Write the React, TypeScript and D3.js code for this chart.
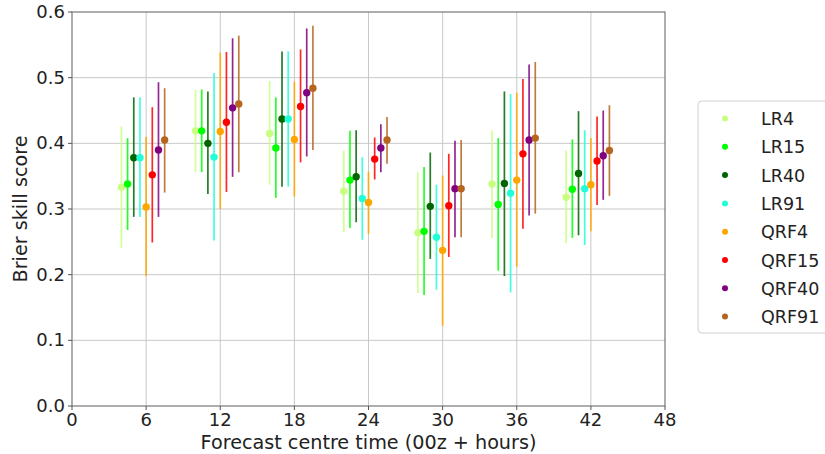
import React from "react";
import * as d3 from "d3";

// Forecast centre times (hours after 00z)
const hours = [6, 12, 18, 24, 30, 36, 42];

const models = ["LR4", "LR15", "LR40", "LR91", "QRF4", "QRF15", "QRF40", "QRF91"];
const colors = ["#c8ff80", "#00ff00", "#006400", "#20ffd8", "#ffa500", "#ff0000", "#800080", "#b5651d"];
// Horizontal offset of each model within a group (hours)
const offsets = [-2, -1.5, -1, -0.5, 0, 0.5, 1, 1.5];

// Brier skill score per model (rows) and forecast time (columns)
const score = [
  [0.333, 0.419, 0.415, 0.327, 0.264, 0.338, 0.318],
  [0.338, 0.419, 0.393, 0.344, 0.266, 0.307, 0.330],
  [0.378, 0.400, 0.437, 0.349, 0.304, 0.339, 0.354],
  [0.378, 0.379, 0.437, 0.316, 0.257, 0.324, 0.331],
  [0.303, 0.418, 0.406, 0.310, 0.237, 0.344, 0.337],
  [0.352, 0.432, 0.456, 0.376, 0.305, 0.384, 0.373],
  [0.390, 0.454, 0.477, 0.393, 0.331, 0.405, 0.381],
  [0.405, 0.460, 0.484, 0.405, 0.331, 0.408, 0.389],
];

// Upper end of the uncertainty range
const upper = [
  [0.426, 0.482, 0.495, 0.389, 0.356, 0.419, 0.389],
  [0.408, 0.482, 0.470, 0.419, 0.364, 0.408, 0.406],
  [0.470, 0.479, 0.540, 0.420, 0.386, 0.479, 0.449],
  [0.470, 0.507, 0.540, 0.379, 0.337, 0.475, 0.420],
  [0.410, 0.538, 0.494, 0.357, 0.351, 0.477, 0.408],
  [0.455, 0.539, 0.543, 0.409, 0.384, 0.498, 0.441],
  [0.493, 0.560, 0.575, 0.429, 0.404, 0.520, 0.450],
  [0.484, 0.564, 0.579, 0.440, 0.405, 0.524, 0.458],
];

// Lower end of the uncertainty range
const lower = [
  [0.241, 0.356, 0.337, 0.265, 0.172, 0.256, 0.248],
  [0.268, 0.356, 0.317, 0.271, 0.169, 0.206, 0.256],
  [0.288, 0.323, 0.334, 0.280, 0.224, 0.198, 0.260],
  [0.288, 0.252, 0.334, 0.253, 0.177, 0.173, 0.245],
  [0.198, 0.300, 0.319, 0.262, 0.122, 0.212, 0.266],
  [0.249, 0.326, 0.371, 0.345, 0.227, 0.270, 0.306],
  [0.288, 0.349, 0.380, 0.356, 0.257, 0.290, 0.314],
  [0.325, 0.356, 0.390, 0.369, 0.257, 0.293, 0.320],
];

const xTicks = [0, 6, 12, 18, 24, 30, 36, 42, 48];
const yTicks = [0, 0.1, 0.2, 0.3, 0.4, 0.5, 0.6];

const W = 825;
const H = 454;
const m = { left: 72, right: 160, top: 12, bottom: 48 };
const FONT = "DejaVu Sans, sans-serif";

export default function App() {
  const x = d3.scaleLinear().domain([0, 48]).range([m.left, W - m.right]);
  const y = d3.scaleLinear().domain([0, 0.6]).range([H - m.bottom, m.top]);
  const x0 = x.range()[0];
  const x1 = x.range()[1];
  const y0 = y.range()[0];
  const y1 = y.range()[1];

  return (
    <svg
      width={W}
      height={H}
      style={{ position: "absolute", left: 0, top: 0, background: "#fff" }}
      fontFamily={FONT}
    >
      {/* grid */}
      {xTicks.slice(1, -1).map((t) => (
        <line key={"gx" + t} x1={x(t)} x2={x(t)} y1={y0} y2={y1} stroke="#c8c8c8" strokeWidth={1} />
      ))}
      {yTicks.slice(1, -1).map((t) => (
        <line key={"gy" + t} x1={x0} x2={x1} y1={y(t)} y2={y(t)} stroke="#c8c8c8" strokeWidth={1} />
      ))}

      {/* error bars and points */}
      {models.map((name, i) =>
        hours.map((h, j) => {
          const cx = x(h + offsets[i]);
          return (
            <g key={name + h}>
              <line
                x1={cx}
                x2={cx}
                y1={y(lower[i][j])}
                y2={y(upper[i][j])}
                stroke={colors[i]}
                strokeWidth={1.7}
                strokeOpacity={0.85}
              />
              <circle cx={cx} cy={y(score[i][j])} r={3.7} fill={colors[i]} />
            </g>
          );
        })
      )}

      {/* spines */}
      <rect x={x0} y={y1} width={x1 - x0} height={y0 - y1} fill="none" stroke="#777" strokeWidth={1.2} />

      {/* x ticks */}
      {xTicks.map((t) => (
        <g key={"xt" + t}>
          <line x1={x(t)} x2={x(t)} y1={y0} y2={y0 + 4} stroke="#555" />
          <text x={x(t)} y={y0 + 20} textAnchor="middle" fontSize={18} fill="#222">
            {t}
          </text>
        </g>
      ))}
      {/* y ticks */}
      {yTicks.map((t) => (
        <g key={"yt" + t}>
          <line x1={x0 - 4} x2={x0} y1={y(t)} y2={y(t)} stroke="#555" />
          <text x={x0 - 7} y={y(t) + 6} textAnchor="end" fontSize={18} fill="#222">
            {d3.format(".1f")(t)}
          </text>
        </g>
      ))}

      {/* axis labels */}
      <text x={(x0 + x1) / 2} y={H - 5} textAnchor="middle" fontSize={19.2} fill="#222">
        Forecast centre time (00z + hours)
      </text>
      <text
        transform={`translate(27, ${(y0 + y1) / 2}) rotate(-90)`}
        textAnchor="middle"
        fontSize={19.2}
        fill="#222"
      >
        Brier skill score
      </text>

      {/* legend */}
      <rect x={698} y={101} width={140} height={232} rx={4} fill="#fff" stroke="#d0d0d0" />
      {models.map((name, i) => {
        const ly = 118.5 + i * 28.3;
        return (
          <g key={"lg" + name}>
            <circle cx={725} cy={ly} r={3} fill={colors[i]} />
            <text x={761} y={ly + 6.5} fontSize={17.5} fill="#222">
              {name}
            </text>
          </g>
        );
      })}
    </svg>
  );
}
